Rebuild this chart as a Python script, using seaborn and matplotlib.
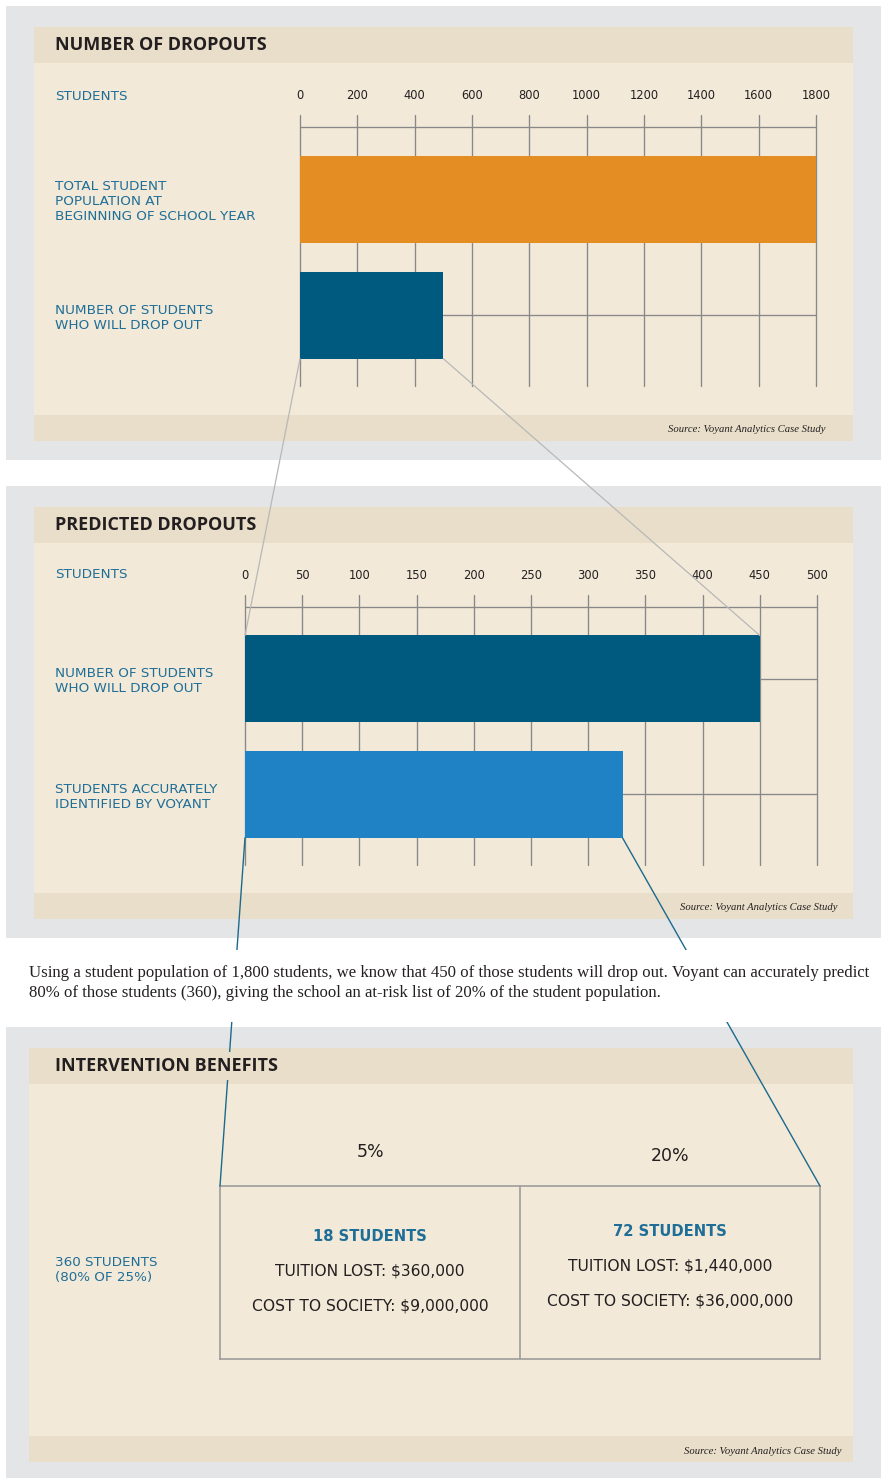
import matplotlib
matplotlib.use("Agg")
import matplotlib.pyplot as plt
from matplotlib.patches import Rectangle, ConnectionPatch
import seaborn as sns

# data
p1_labels = ["TOTAL STUDENT\nPOPULATION AT\nBEGINNING OF SCHOOL YEAR",
             "NUMBER OF STUDENTS\nWHO WILL DROP OUT"]
p1_values = [1800, 500]
p1_ticks = [0, 200, 400, 600, 800, 1000, 1200, 1400, 1600, 1800]

p2_labels = ["NUMBER OF STUDENTS\nWHO WILL DROP OUT",
             "STUDENTS ACCURATELY\nIDENTIFIED BY VOYANT"]
p2_values = [450, 330]
p2_ticks = [0, 50, 100, 150, 200, 250, 300, 350, 400, 450, 500]

pcts = ["5%", "20%"]
saved_students = [18, 72]
tuition_lost = [360000, 1440000]
society_cost = [9000000, 36000000]
group_label = "360 STUDENTS\n(80% OF 25%)"

note = ("Using a student population of 1,800 students, we know that 450 of those students will drop out. "
        "Voyant can accurately predict\n80% of those students (360), giving the school an at-risk list "
        "of 20% of the student population.")
source = "Source: Voyant Analytics Case Study"

# colours
GRAY_BG = "#e4e5e7"
CREAM = "#f2e9d8"
BAND = "#e8dec9"
DARK = "#231f20"
TEAL = "#1f6e97"
ORANGE = "#e38d23"
NAVY = "#00597f"
BLUE = "#1e82c5"
GRID = "#888888"

sns.set_style("white")
plt.rcParams["font.family"] = ["DejaVu Sans"]
TITLE_FONT = ["Open Sans", "DejaVu Sans"]

W, H = 881, 1478
fig = plt.figure(figsize=(W / 100, H / 100), dpi=100)
fig.patch.set_facecolor("white")


def fx(x):
    return x / W


def fy(y):
    return 1 - y / H


def rect(x0, y0, x1, y1, color, z=-10):
    fig.patches.append(Rectangle((fx(x0), fy(y1)), (x1 - x0) / W, (y1 - y0) / H,
                                 transform=fig.transFigure, facecolor=color,
                                 edgecolor="none", zorder=z))


def axes_px(x0, y0, x1, y1):
    ax = fig.add_axes([fx(x0), fy(y1), (x1 - x0) / W, (y1 - y0) / H])
    ax.set_facecolor("none")
    return ax


def panel(y0, y1, title, src_x, cx0=34, z=-10):
    rect(6, y0, 881, y1, GRAY_BG, z)
    rect(cx0, y0 + 21, 853, y1 - 19, CREAM, z + 1)
    rect(cx0, y0 + 21, 853, y0 + 57, BAND, z + 2)
    rect(cx0, y1 - 45, 853, y1 - 19, BAND, z + 2)
    fig.text(fx(55), fy(y0 + 39), title, fontsize=13, fontweight="bold", color=DARK,
             family=TITLE_FONT, va="center", ha="left", zorder=8,
             bbox=dict(boxstyle="square,pad=0.3", fc=BAND, ec="none"))
    fig.text(fx(src_x), fy(y1 - 30), source, fontsize=7.7, style="italic", color=DARK,
             family="Liberation Serif", ha="right", va="center", zorder=8)


panel(6, 460, "NUMBER OF DROPOUTS", 826)
panel(486, 938, "PREDICTED DROPOUTS", 838)
panel(1027, 1481, "INTERVENTION BENEFITS", 842, cx0=29)


def bar_chart(ax, labels, values, ticks, colors, pad_px, top_px, height_px):
    bw = 0.75
    sns.barplot(x=values, y=labels, hue=labels, palette=colors, orient="h", ax=ax,
                width=bw, saturation=1, legend=False, zorder=3,
                edgecolor="none", linewidth=0)
    ax.set_xlim(ticks[0], ticks[-1])
    ax.set_ylim(1.61, -0.725)
    for t in ticks:
        ax.axvline(t, color=GRID, lw=0.95, zorder=1, clip_on=False)
    for i in range(len(values)):
        ax.plot([values[i], ticks[-1]], [i, i], color=GRID, lw=0.95, zorder=1,
                transform=ax.transData, clip_on=False)
    yl = 1 - top_px / height_px
    ax.plot([0, 1], [yl, yl], transform=ax.transAxes, color=GRID, lw=0.95, zorder=1,
            clip_on=False)
    for s in ax.spines.values():
        s.set_visible(False)
    ax.xaxis.tick_top()
    ax.set_xticks(ticks, labels=[str(t) for t in ticks])
    ax.tick_params(axis="x", length=0, pad=9.5, labelsize=8.3, labelcolor=DARK)
    ax.set_yticks(range(len(labels)), labels=labels)
    ax.tick_params(axis="y", length=0, pad=pad_px * 0.72, labelsize=9.7, labelcolor=TEAL)
    for lbl in ax.get_yticklabels():
        lbl.set_ha("left")
        lbl.set_linespacing(1.18)
    ax.set_xlabel("")
    ax.set_ylabel("")
    return bw


ax1 = axes_px(300, 115, 816, 386)
bw1 = bar_chart(ax1, p1_labels, p1_values, p1_ticks, [ORANGE, NAVY], 245, 12, 271)
fig.text(fx(55), fy(96), "STUDENTS", fontsize=9.7, color=TEAL, va="center")

ax2 = axes_px(245, 595, 817, 865)
bw2 = bar_chart(ax2, p2_labels, p2_values, p2_ticks, [NAVY, BLUE], 190, 12, 270)
fig.text(fx(55), fy(574), "STUDENTS", fontsize=9.7, color=TEAL, va="center")

# intervention box
ax3 = axes_px(220, 1186, 820, 1359)
ax3.set_xlim(0, 2)
ax3.set_ylim(0, 1)
ax3.set_xticks([])
ax3.set_yticks([])
for s in ax3.spines.values():
    s.set_color("#9d9d9d")
    s.set_linewidth(1.2)
ax3.axvline(1, color="#9d9d9d", lw=1.2)
col_dy = [0, 0.027]
for i in range(2):
    cx = i + 0.5
    ax3.text(cx, 1.195 - col_dy[i] * 0.9, pcts[i], ha="center", va="center", fontsize=12.5,
             color=DARK, clip_on=False)
    ax3.text(cx, 0.71 + col_dy[i], f"{saved_students[i]} STUDENTS", ha="center", va="center",
             fontsize=10.6, fontweight="bold", color=TEAL)
    ax3.text(cx, 0.508 + col_dy[i], f"TUITION LOST: ${tuition_lost[i]:,}", ha="center",
             va="center", fontsize=11.2, color=DARK)
    ax3.text(cx, 0.306 + col_dy[i], f"COST TO SOCIETY: ${society_cost[i]:,}", ha="center",
             va="center", fontsize=11.2, color=DARK)
fig.text(fx(55), fy(1270), group_label, fontsize=9.7, color=TEAL, va="center",
         linespacing=1.18)

# zoom connector lines (category positions are 0, 1 in transData)
for xa, xb in [(0, 0), (p1_values[1], p2_values[0])]:
    con = ConnectionPatch(xyA=(xa, 1 + bw1 / 2), coordsA=ax1.transData,
                          xyB=(xb, -bw2 / 2), coordsB=ax2.transData,
                          color="#b8b8b8", lw=0.9, zorder=5)
    fig.add_artist(con)
for xa, xb in [(0, 0), (p2_values[1], 1)]:
    con = ConnectionPatch(xyA=(xa, 1 + bw2 / 2), coordsA=ax2.transData,
                          xyB=(xb, 1), coordsB=ax3.transAxes,
                          color="#1b6a8e", lw=1.0, zorder=5)
    fig.add_artist(con)

rect(0, 950, 881, 1022, "white", z=6)
fig.text(fx(29), fy(983), note, fontsize=12.1, family="Liberation Serif", color=DARK,
         va="center", ha="left", linespacing=1.3, zorder=7)

fig.savefig("out.png", dpi=100)
